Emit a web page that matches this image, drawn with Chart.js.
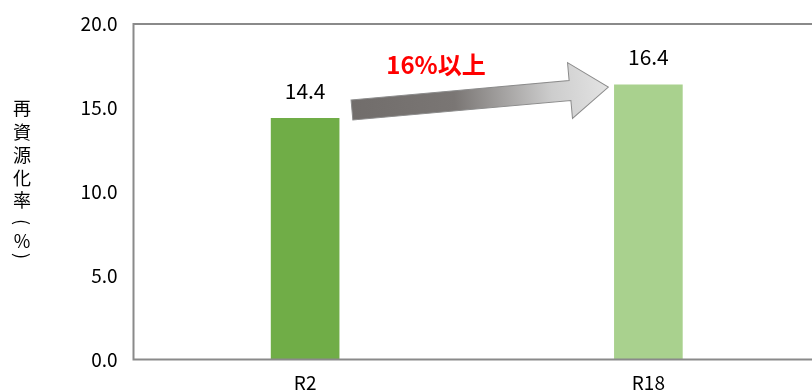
<!DOCTYPE html>
<html>
<head>
<meta charset="utf-8">
<script src="https://cdn.jsdelivr.net/npm/chart.js@4"></script>
<style>
  html, body { margin: 0; padding: 0; background: #fff; overflow: hidden; }
  #wrap { width: 820px; height: 390px; }
</style>
</head>
<body>
<div id="wrap"><canvas id="chart"></canvas></div>
<script>
const categories = ['R2', 'R18']
const rates = [14.4, 16.4]
const barColors = ['#70ad47', '#a9d18e']
const yTitle = ['再', '資', '源', '化', '率', '(', '%', ')']
const arrowLabel = '16%以上'

const FONT = '"Noto Sans CJK JP", "Noto Sans", sans-serif'

// frame around the plot area (left, top, bottom)
const framePlugin = {
  id: 'frame',
  afterDraw(chart) {
    const { ctx, chartArea: a } = chart
    ctx.save()
    ctx.strokeStyle = '#8a8a8a'
    ctx.lineWidth = 2
    ctx.beginPath()
    ctx.moveTo(a.right + 2, a.top)
    ctx.lineTo(a.left, a.top)
    ctx.lineTo(a.left, a.bottom)
    ctx.lineTo(a.right + 2, a.bottom)
    ctx.stroke()
    ctx.restore()
  }
}

const valueLabels = {
  id: 'valueLabels',
  afterDatasetsDraw(chart) {
    const { ctx } = chart
    const meta = chart.getDatasetMeta(0)
    ctx.save()
    ctx.fillStyle = '#000'
    ctx.font = '21px ' + FONT
    ctx.textAlign = 'center'
    ctx.textBaseline = 'middle'
    meta.data.forEach((bar, i) => {
      ctx.fillText(rates[i].toFixed(1), bar.x, bar.y - 27)
    })
    ctx.restore()
  }
}

const arrowPlugin = {
  id: 'arrow',
  afterDatasetsDraw(chart) {
    const { ctx } = chart
    const bars = chart.getDatasetMeta(0).data
    const b1 = bars[0], b2 = bars[1]
    const x0 = b1.x + b1.width / 2 + 12.5
    const y0 = b1.y - 8
    const x1 = b2.x - b2.width / 2 - 5.7
    const y1 = b2.y + 2.7
    const len = Math.hypot(x1 - x0, y1 - y0)
    const ang = Math.atan2(y1 - y0, x1 - x0)
    const head = 38.5, sw = 10, hw = 28

    ctx.save()
    ctx.translate(x0, y0)
    ctx.rotate(ang)
    const g = ctx.createLinearGradient(0, 0, len, 0)
    g.addColorStop(0, '#716d6b')
    g.addColorStop(0.4, '#7a7674')
    g.addColorStop(0.78, '#cdcdcd')
    g.addColorStop(1, '#e3e3e3')
    ctx.beginPath()
    ctx.moveTo(0, -sw)
    ctx.lineTo(len - head, -sw)
    ctx.lineTo(len - head, -hw)
    ctx.lineTo(len, 0)
    ctx.lineTo(len - head, hw)
    ctx.lineTo(len - head, sw)
    ctx.lineTo(0, sw)
    ctx.closePath()
    ctx.fillStyle = g
    ctx.fill()
    ctx.strokeStyle = '#8c8c8c'
    ctx.lineWidth = 1
    ctx.stroke()
    ctx.restore()

    ctx.save()
    ctx.fillStyle = '#ff0000'
    ctx.font = 'bold 24px ' + FONT
    ctx.textAlign = 'center'
    ctx.textBaseline = 'middle'
    ctx.fillText(arrowLabel, x0 + 84, y0 - 45)
    ctx.restore()
  }
}

// vertical axis title, written top to bottom with rotated brackets
const yTitlePlugin = {
  id: 'yTitle',
  afterDraw(chart) {
    const { ctx } = chart
    ctx.save()
    ctx.fillStyle = '#000'
    ctx.font = '18px ' + FONT
    ctx.textAlign = 'center'
    ctx.textBaseline = 'middle'
    const ys = [108, 132, 155, 178, 200, 222, 241, 256]
    yTitle.forEach((ch, i) => {
      if (ch === '(' || ch === ')') {
        ctx.save()
        ctx.translate(22, ys[i])
        ctx.rotate(Math.PI / 2)
        ctx.fillText(ch, 0, 0)
        ctx.restore()
      } else {
        ctx.fillText(ch, 22, ys[i])
      }
    })
    ctx.restore()
  }
}

new Chart(document.getElementById('chart'), {
  type: 'bar',
  data: {
    labels: categories,
    datasets: [{
      data: rates,
      backgroundColor: barColors,
      borderWidth: 0,
      categoryPercentage: 1,
      barPercentage: 0.2
    }]
  },
  options: {
    responsive: true,
    maintainAspectRatio: false,
    animation: false,
    layout: { padding: { top: 24, left: 0, right: 0, bottom: 0 } },
    plugins: {
      legend: { display: false },
      tooltip: { enabled: false }
    },
    scales: {
      x: {
        grid: { display: false, drawTicks: false },
        border: { display: false },
        ticks: { color: '#000', font: { family: FONT, size: 19 }, padding: 12 },
        afterFit: s => { s.height = 30.5 }
      },
      y: {
        min: 0,
        max: 20,
        grid: { display: false, drawTicks: false },
        border: { display: false },
        ticks: {
          stepSize: 5,
          color: '#000',
          padding: 16,
          font: { family: FONT, size: 19 },
          callback: v => v.toFixed(1)
        },
        afterFit: s => { s.width = 133.5; s.paddingTop = 0; s.paddingBottom = 0 }
      }
    }
  },
  plugins: [framePlugin, valueLabels, arrowPlugin, yTitlePlugin]
})
</script>
</body>
</html>
